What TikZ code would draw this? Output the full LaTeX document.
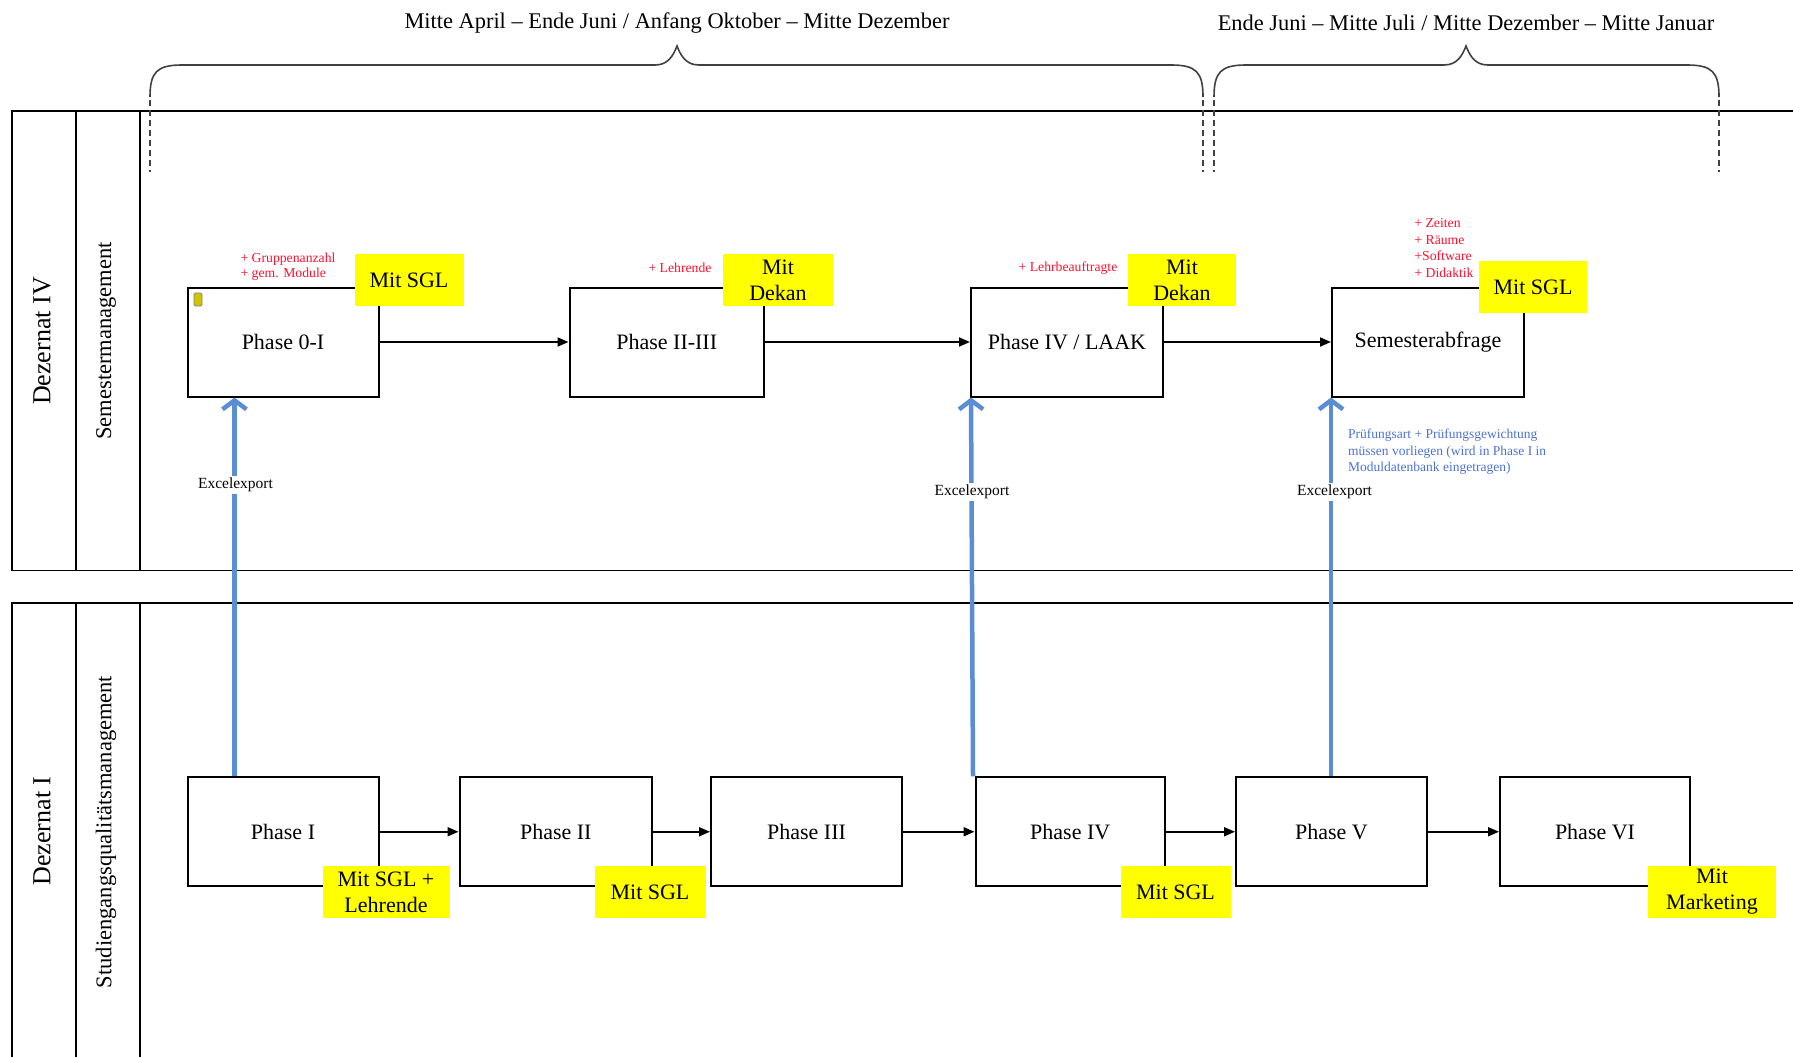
\documentclass[tikz,border=0pt]{standalone}
\usepackage{fontspec}
\setmainfont{Liberation Serif}
\usetikzlibrary{arrows.meta,calc}
\definecolor{myyellow}{HTML}{FFFF00}
\definecolor{arrowblue}{HTML}{5B8DD6}
\definecolor{notered}{HTML}{FF1030}
\definecolor{noteblue}{HTML}{4A72D0}
\definecolor{bracegray}{HTML}{404040}
\definecolor{markfill}{HTML}{D2C400}
\begin{document}
\begin{tikzpicture}[x=1pt,y=-1pt,
  lane/.style={line width=1.6pt},
  phasebox/.style={draw, line width=2pt, minimum height=109pt, inner sep=0pt, font=\fontsize{22}{26}\selectfont},
  ybox/.style={fill=myyellow, inner sep=0pt, minimum height=52pt, align=center, font=\fontsize{22}{26}\selectfont},
  flow/.style={line width=1.8pt, -{Triangle[length=11pt,width=9pt]}},
  bluearr/.style={draw=arrowblue, line width=4.5pt, -{Straight Barb[length=9pt,width=24pt]}},
  excel/.style={fill=white, inner sep=1.5pt, font=\fontsize{15.5}{17}\selectfont},
  rednote/.style={text=notered, align=left, inner sep=0pt, font=\fontsize{13.7}{15}\selectfont},
  bluenote/.style={text=noteblue, align=left, inner sep=0pt, font=\fontsize{13.5}{16.5}\selectfont},
  brace/.style={draw=bracegray, line width=1.6pt},
  tick/.style={draw=bracegray, line width=1.2pt, dash pattern=on 6pt off 4pt},
  header/.style={font=\fontsize{22.4}{26}\selectfont},
  lanelabel/.style={rotate=90, font=\fontsize{26}{30}\selectfont},
  sublabel/.style={rotate=90, font=\fontsize{22.5}{26}\selectfont}
]
\useasboundingbox (0,0) rectangle (1793,1057);

% swimlanes
\draw[lane] (1793,111) -- (11.7,111) -- (11.7,570.5) -- (1793,570.5);
\draw[lane] (76,111) -- (76,570.5);
\draw[lane] (140,111) -- (140,570.5);
\draw[lane] (1793,602.7) -- (11.7,602.7) -- (11.7,1057);
\draw[lane] (76,602.7) -- (76,1057);
\draw[lane] (140,602.7) -- (140,1057);

\node[lanelabel] (d4) at (42,341) {Dezernat IV};
\node[sublabel] (sm) at (106,341) {Semestermanagement};
\node[lanelabel] (d1) at (42,831) {Dezernat I};
\node[sublabel] (sq) at (106,832) {Studiengangsqualitätsmanagement};

% braces and headers
\node[header] (h1) at (677,23) {Mitte April – Ende Juni / Anfang Oktober – Mitte Dezember};
\node[header] (h2) at (1466,23) {Ende Juni – Mitte Juli / Mitte Dezember – Mitte Januar};
\draw[brace] (150,97) .. controls (150,72) and (157,65) .. (182,65) -- (655,65)
  .. controls (668,65) and (673,56) .. (677,46) .. controls (681,56) and (686,65) .. (699,65)
  -- (1171,65) .. controls (1196,65) and (1203,72) .. (1203,97);
\draw[brace] (1214,97) .. controls (1214,72) and (1221,65) .. (1246,65) -- (1444,65)
  .. controls (1457,65) and (1462,56) .. (1466,46) .. controls (1470,56) and (1475,65) .. (1488,65)
  -- (1687,65) .. controls (1712,65) and (1719,72) .. (1719,97);
\draw[tick] (150,100) -- (150,172);
\draw[tick] (1203,100) -- (1203,172);
\draw[tick] (1214,100) -- (1214,172);
\draw[tick] (1719,100) -- (1719,172);

% top lane boxes
\node[phasebox, minimum width=191pt] (t1) at (283,342) {Phase 0-I};
\node[phasebox, minimum width=194.5pt] (t2) at (666.75,342) {Phase II-III};
\node[phasebox, minimum width=192pt] (t3) at (1067,342) {Phase IV / LAAK};
\node[phasebox, minimum width=192pt] (t4) at (1428,342) {Semesterabfrage};

\node[draw=gray, fill=markfill, rounded corners=1.5pt, minimum width=8pt, minimum height=13pt, inner sep=0pt, line width=0.8pt] (mk) at (198,299.5) {};

\node[ybox, minimum width=109pt] (y1) at (409,280) {Mit SGL};
\node[ybox, minimum width=109.5pt] (y2) at (778,280) {Mit\\Dekan};
\node[ybox, minimum width=108.5pt] (y3) at (1182,280) {Mit\\Dekan};
\node[ybox, minimum width=108.5pt] (y4) at (1533,287) {Mit SGL};

\node[rednote] (r1) at (288,267) {+ Gruppenanzahl\\+ gem. Module};
\node[rednote] (r2) at (680,268) {+ Lehrende};
\node[rednote] (r3) at (1068,268) {+ Lehrbeauftragte};
\node[rednote, font=\fontsize{13.7}{16.5}\selectfont] (r4) at (1444,248) {+ Zeiten\\+ Räume\\+Software\\+ Didaktik};

% bottom lane boxes
\node[phasebox, minimum width=191pt] (p1) at (283,831.75) {Phase I};
\node[phasebox, minimum width=192.5pt] (p2) at (555.75,831.75) {Phase II};
\node[phasebox, minimum width=191pt] (p3) at (806.5,831.75) {Phase III};
\node[phasebox, minimum width=189.5pt] (p4) at (1070.25,831.75) {Phase IV};
\node[phasebox, minimum width=191pt] (p5) at (1331.5,831.75) {Phase V};
\node[phasebox, minimum width=190pt] (p6) at (1595,831.75) {Phase VI};

\node[ybox, minimum width=127pt] (b1) at (386,892) {Mit SGL +\\Lehrende};
\node[ybox, minimum width=111pt] (b2) at (650,892) {Mit SGL};
\node[ybox, minimum width=110pt] (b3) at (1175.5,892) {Mit SGL};
\node[ybox, minimum width=128pt] (b4) at (1712,892) {Mit\\Marketing};

% flows
\draw[flow] (t1.east) -- (t2.west);
\draw[flow] (t2.east) -- (t3.west);
\draw[flow] (t3.east) -- (t4.west);
\draw[flow] (p1.east) -- (p2.west);
\draw[flow] (p2.east) -- (p3.west);
\draw[flow] (p3.east) -- (p4.west);
\draw[flow] (p4.east) -- (p5.west);
\draw[flow] (p5.east) -- (p6.west);

% excel exports
\draw[bluearr] ([xshift=48pt]p1.north west) -- ([xshift=48pt]t1.south west);
\draw[bluearr] ([xshift=-1.5pt]p4.north west) -- ([xshift=1pt]t3.south west);
\draw[bluearr] ([xshift=96pt]p5.north west) -- (t4.south west);
\node[excel] (e1) at (235.5,485) {Excelexport};
\node[excel] (e2) at (972,492) {Excelexport};
\node[excel] (e3) at (1334.5,492) {Excelexport};

\node[bluenote, anchor=west] (bn) at (1348,452) {Prüfungsart + Prüfungsgewichtung\\müssen vorliegen (wird in Phase I in\\Moduldatenbank eingetragen)};
\end{tikzpicture}
\end{document}
